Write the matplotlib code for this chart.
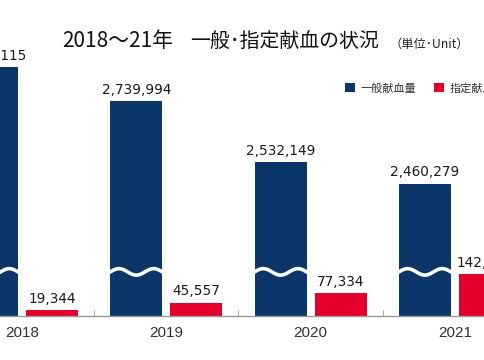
import matplotlib

matplotlib.use("Agg")
import matplotlib.pyplot as plt  # noqa: E402
import numpy as np  # noqa: E402

plt.rcParams["font.family"] = ["Noto Sans CJK JP", "DejaVu Sans"]

# data
years = ["2018", "2019", "2020", "2021"]
general = [2856115, 2739994, 2532149, 2460279]   # 一般献血量
designated = [19344, 45557, 77334, 142705]       # 指定献血量

BREAK_OFFSET = 2010000   # navy bars are drawn with this amount cut out
BREAK_Y = 150000         # where the white wave sits on the navy bars
NAVY = "#0b3768"
RED = "#e4002b"

W, H, DPI = 485, 360, 100
PX = 3400  # data units per pixel
fig = plt.figure(figsize=(W / DPI, H / DPI), dpi=DPI)
ax_bottom, ax_top = 316, 40
ax = fig.add_axes([0, (H - ax_bottom) / H, 1, (ax_bottom - ax_top) / H])

x = np.arange(len(years))
bw, off = 0.36, 0.208
nb = ax.bar(x - off, [v - BREAK_OFFSET for v in general], bw, color=NAVY, label="一般献血量")
rb = ax.bar(x + off, designated, bw, color=RED, label="指定献血量")

# white wave = axis break marker
for xi in x - off:
    t = np.linspace(-bw * 0.52, bw * 0.52, 100)
    ax.plot(xi + t, BREAK_Y + 11000 * np.sin((t / bw + 0.5) * 2 * np.pi * 1.5),
            color="white", lw=2.6, solid_capstyle="butt", zorder=3)

lbl = dict(xytext=(0, 3), textcoords="offset points", ha="center", va="bottom",
           fontsize=9.8, family="DejaVu Sans", color="#1a1a1a", annotation_clip=False)
for xi, v in zip(x - off, general):
    ax.annotate(f"{v:,}", (xi, v - BREAK_OFFSET), **lbl)
for xi, v in zip(x + off, designated):
    ax.annotate(f"{v:,}", (xi, v), **lbl)

ax.set_xlim(-22 / 144.3, (W - 22) / 144.3)
ax.set_ylim(0, (ax_bottom - ax_top) * PX)
ax.set_xticks(x)
ax.set_xticklabels(years, fontsize=11, family="Liberation Sans", color="#333")
ax.set_xticks(x[:-1] + 0.5, minor=True)
ax.tick_params(axis="x", which="major", length=0, pad=7)
ax.tick_params(axis="x", which="minor", direction="in", length=4, color="#999")
ax.set_yticks([])
for s in ("top", "right", "left"):
    ax.spines[s].set_visible(False)
ax.spines["bottom"].set_color("#999")
ax.spines["bottom"].set_linewidth(1.0)

fig.text(62 / W, 1 - 41 / H, "2018～21年", fontsize=15, ha="left", va="center", color="#111")
fig.text(190 / W, 1 - 41 / H, "一般･指定献血の状況", fontsize=14.3, ha="left", va="center", color="#111")
fig.text(389 / W, 1 - 44 / H, "（単位･Unit）", fontsize=8.8, ha="left", va="center", color="#222")

ax.legend(handles=[nb, rb], loc="upper left", bbox_to_anchor=(335 / W, 1 - 73 / H),
          bbox_transform=fig.transFigure, ncol=2, frameon=False, fontsize=8,
          handlelength=0.9, handleheight=0.9, handletextpad=0.5, columnspacing=1.6,
          labelcolor="#333")

fig.savefig("out.png", dpi=DPI, facecolor="white")
